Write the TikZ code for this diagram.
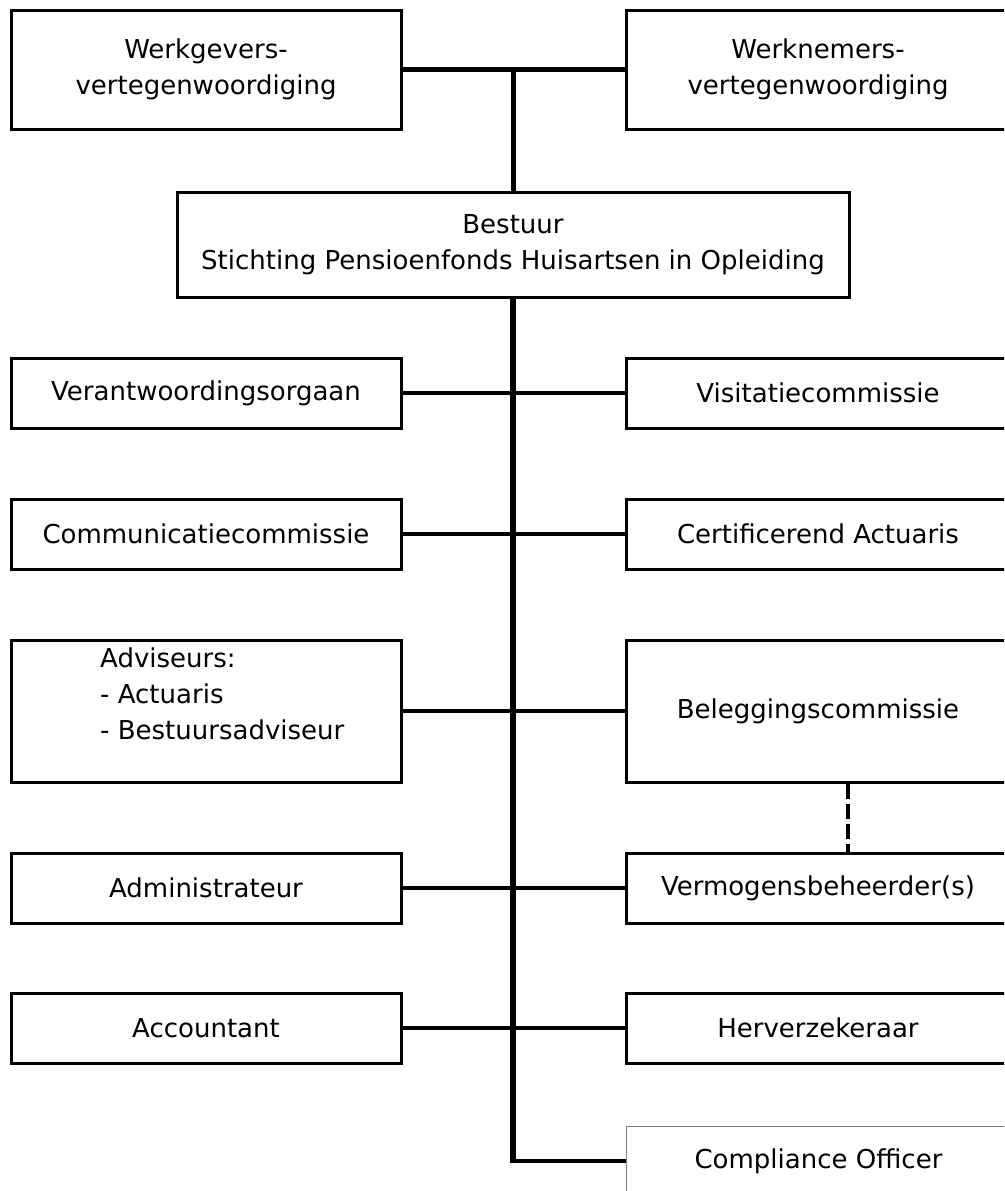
\documentclass[tikz,border=0pt]{standalone}
\usepackage{fontspec}
\setmainfont{DejaVu Sans}
\begin{document}
\begin{tikzpicture}[x=1pt, y=-1pt]
  \tikzstyle{box}=[draw, line width=3pt, minimum height=70pt, inner sep=0pt, align=center,
                   font=\fontsize{26}{36}\selectfont]
  \tikzstyle{lbox}=[box, minimum width=390pt]
  \tikzstyle{rbox}=[box, minimum width=384pt]
  \tikzstyle{link}=[line width=4.5pt]
  \tikzstyle{trunk}=[line width=6pt]
  \tikzstyle{loose}=[line width=4.5pt, dash pattern=on 15pt off 5pt]

  \useasboundingbox (0,0) rectangle (1004,1191);
  \clip (0,0) rectangle (1004,1191);

  \node[lbox, minimum height=119pt] (wg) at (206, 69.5) {Werkgevers-\\vertegenwoordiging};
  \node[rbox, minimum height=119pt] (wn) at (818, 69.5) {Werknemers-\\vertegenwoordiging};
  \node[box, minimum width=672pt, minimum height=105pt] (bestuur) at (513, 244.5)
       {Bestuur\\Stichting Pensioenfonds Huisartsen in Opleiding};

  \node[lbox] (vo)  at (206, 393)  {Verantwoordingsorgaan};
  \node[rbox] (vc)  at (818, 393)  {Visitatiecommissie};
  \node[lbox] (cc)  at (206, 534)  {Communicatiecommissie};
  \node[rbox] (ca)  at (818, 534)  {Certificerend Actuaris};
  \node[lbox, minimum height=142pt] (adv) at (206, 711) {};
  \node[anchor=north west, align=left, inner sep=0pt, font=\fontsize{26}{36}\selectfont]
       (advtxt) at (100, 648) {Adviseurs:\\- Actuaris\\- Bestuursadviseur};
  \node[rbox, minimum height=142pt] (bc) at (818, 711) {Beleggingscommissie};
  \node[lbox] (adm) at (206, 888)  {Administrateur};
  \node[rbox] (vb)  at (818, 888)  {Vermogensbeheerder(s)};
  \node[lbox] (acc) at (206, 1028) {Accountant};
  \node[rbox] (hv)  at (818, 1028) {Herverzekeraar};
  \node[rbox, draw=gray, line width=1pt] (co) at (818.5, 1161) {Compliance Officer};

  \coordinate (top) at (wg.east -| bestuur.north);
  \coordinate (bottom) at (co.west -| bestuur.south);

  \draw[link] (wg.east) -- (wn.west);
  \draw[link, line width=5pt] (top) -- (bestuur.north);
  \draw[trunk] (bestuur.south) -- (bottom);
  \draw[link] ([xshift=-3pt]bottom) -- (co.west);

  \draw[link] (vo)  -- (vc);
  \draw[link] (cc)  -- (ca);
  \draw[link] (adv) -- (bc);
  \draw[link] (adm) -- (vb);
  \draw[link] (acc) -- (hv);

  \draw[loose] ([xshift=30pt]bc.south) -- ([xshift=30pt]vb.north);
\end{tikzpicture}
\end{document}
